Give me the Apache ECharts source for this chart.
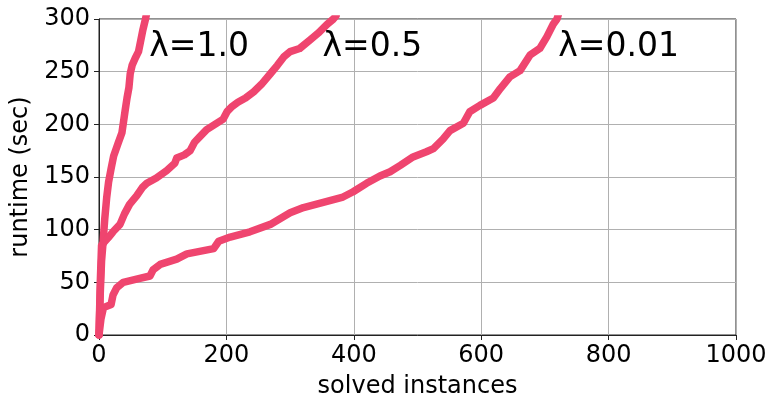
<!DOCTYPE html>
<html>
<head>
<meta charset="utf-8">
<script src="https://cdn.jsdelivr.net/npm/echarts@6/dist/echarts.min.js"></script>
<style>
html,body{margin:0;padding:0;background:#fff;}
#main{width:769px;height:398px;}
</style>
</head>
<body>
<div id="main"></div>
<script>
// λ=1.0
const lam10X = [0, 2, 4, 6, 9, 12, 15, 19, 23, 30, 36, 41, 44, 47, 49, 52, 57, 62, 65, 69, 73, 75];
const lam10Y = [0, 40, 70, 85, 110, 130, 145, 158, 170, 182, 192, 213, 225, 235, 248, 256, 263, 269, 278, 290, 300, 306];
// λ=0.5
const lam05X = [0, 2, 4, 8, 14, 22, 33, 40, 48, 59, 68, 75, 90, 106, 119, 122, 134, 143, 150, 158, 169, 182, 195, 201, 209, 218, 230, 243, 255, 269, 280, 290, 300, 315, 331, 345, 358, 368, 372];
const lam05Y = [0, 50, 85, 88, 92, 98, 105, 115, 124, 132, 140, 144, 149, 156, 163, 168, 171, 175, 183, 188, 195, 200, 205, 212, 217, 221, 225, 231, 238, 248, 256, 264, 269, 272, 280, 287, 295, 300, 303];
// λ=0.01
const lam001X = [0, 3, 7, 19, 22, 28, 38, 59, 80, 85, 96, 122, 138, 180, 188, 206, 237, 269, 300, 321, 352, 383, 399, 420, 441, 457, 473, 493, 514, 525, 540, 551, 572, 582, 598, 619, 630, 645, 661, 677, 692, 703, 713, 719, 722];
const lam001Y = [0, 15, 26, 29, 38, 45, 50, 53, 56, 62, 67, 72, 77, 82, 89, 93, 98, 105, 116, 121, 126, 131, 136, 144, 151, 155, 161, 169, 174, 177, 186, 194, 201, 212, 218, 225, 234, 245, 251, 266, 272, 283, 295, 300, 306];

// annotations
const labelNames = ['λ=1.0', 'λ=0.5', 'λ=0.01'];
const labelX = [79, 351, 721];
const labelY = [273, 273, 273];

const xTicks = [0, 200, 400, 600, 800, 1000];
const yTicks = [0, 50, 100, 150, 200, 250, 300];

function pairs(xs, ys) { return xs.map((x, i) => [x, ys[i]]); }

const FONT = 'DejaVu Sans';
const LINE_COLOR = '#EF456F';

const lineSeries = [[lam10X, lam10Y], [lam05X, lam05Y], [lam001X, lam001Y]].map(([xs, ys]) => ({
  type: 'line',
  data: pairs(xs, ys),
  showSymbol: false,
  symbol: 'none',
  clip: true,
  lineStyle: { color: LINE_COLOR, width: 7.5, cap: 'round', join: 'round' },
  itemStyle: { color: LINE_COLOR },
  animation: false,
  z: 3
}));

const labelSeries = {
  type: 'scatter',
  symbolSize: 0,
  itemStyle: { opacity: 1 },
  data: labelNames.map((n, i) => ({ value: [labelX[i], labelY[i]], name: n })),
  label: {
    show: true,
    position: 'right',
    distance: 0,
    align: 'left',
    verticalAlign: 'middle',
    formatter: p => p.name,
    fontFamily: FONT,
    fontSize: 33,
    color: '#000',
    opacity: 1
  },
  animation: false,
  silent: true,
  z: 5
};

const chart = echarts.init(document.getElementById('main'), null, { renderer: 'canvas' });
chart.setOption({
  backgroundColor: '#fff',
  animation: false,
  grid: { left: 99, right: 33, top: 19, bottom: 63, outerBoundsMode: 'none', containLabel: false, show: true, borderColor: '#222', borderWidth: 1, backgroundColor: 'transparent' },
  xAxis: {
    type: 'value',
    min: xTicks[0], max: xTicks[xTicks.length - 1], interval: 200,
    name: 'solved instances',
    nameLocation: 'middle',
    nameGap: 40,
    nameTextStyle: { fontFamily: FONT, fontSize: 24, color: '#000' },
    axisLine: { show: true, onZero: false, lineStyle: { color: '#222', width: 1 } },
    axisTick: { show: true, length: 5, lineStyle: { color: '#222' } },
    axisLabel: { fontFamily: FONT, fontSize: 24, color: '#000', margin: 9, formatter: v => String(v) },
    splitLine: { show: true, lineStyle: { color: '#b0b0b0', width: 1 } }
  },
  yAxis: {
    type: 'value',
    min: yTicks[0], max: yTicks[yTicks.length - 1], interval: 50,
    name: 'runtime (sec)',
    nameLocation: 'middle',
    nameGap: 66,
    nameTextStyle: { fontFamily: FONT, fontSize: 24, color: '#000' },
    axisLine: { show: true, onZero: false, lineStyle: { color: '#222', width: 1 } },
    axisTick: { show: true, length: 5, lineStyle: { color: '#222' } },
    axisLabel: { fontFamily: FONT, fontSize: 24, color: '#000', margin: 9, formatter: v => String(v) },
    splitLine: { show: true, lineStyle: { color: '#b0b0b0', width: 1 } }
  },
  series: lineSeries.concat([labelSeries])
});
</script>
</body>
</html>
